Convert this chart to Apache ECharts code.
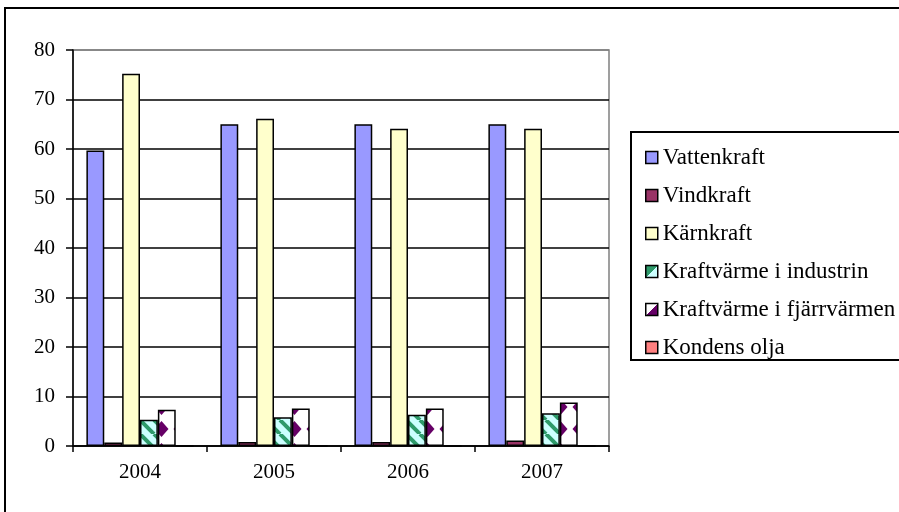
<!DOCTYPE html>
<html>
<head>
<meta charset="utf-8">
<title>Elproduktion</title>
<script src="https://cdn.jsdelivr.net/npm/echarts@6/dist/echarts.min.js"></script>
<style>
  html, body { margin: 0; padding: 0; background: #fff; }
</style>
</head>
<body>
<div id="main" style="width:899px;height:512px;"></div>
<script type="text/javascript">
// data (TWh)
var years = ['2004', '2005', '2006', '2007'];
var seriesNames = ['Vattenkraft', 'Vindkraft', 'Kärnkraft', 'Kraftvärme i industrin', 'Kraftvärme i fjärrvärmen', 'Kondens olja'];
var vattenkraft = [59.7, 65.0, 65.0, 65.0];
var vindkraft = [0.7, 0.8, 0.8, 1.1];
var karnkraft = [75.2, 66.1, 64.1, 64.1];
var kvIndustri = [5.3, 5.8, 6.3, 6.6];
var kvFjarr = [7.3, 7.6, 7.6, 8.8];
var kondensOlja = [0, 0, 0, 0];
var yTicks = [0, 10, 20, 30, 40, 50, 60, 70, 80];

// pattern fills, like the excel chart
function stripePattern() {
    var c = document.createElement('canvas');
    c.width = 14; c.height = 14;
    var ctx = c.getContext('2d');
    ctx.fillStyle = '#ccffff';
    ctx.fillRect(0, 0, 14, 14);
    ctx.strokeStyle = '#2e9a6a';
    ctx.lineWidth = 4;
    for (var k = -14; k <= 14; k += 14) {
        ctx.beginPath();
        ctx.moveTo(k, 0);
        ctx.lineTo(k + 14, 14);
        ctx.stroke();
    }
    return c;
}
function diamondPattern() {
    var c = document.createElement('canvas');
    c.width = 19; c.height = 22;
    var ctx = c.getContext('2d');
    ctx.fillStyle = '#ffffff';
    ctx.fillRect(0, 0, 19, 22);
    ctx.fillStyle = '#660066';
    ctx.beginPath();
    ctx.moveTo(9.5, 3);
    ctx.lineTo(16.5, 11);
    ctx.lineTo(9.5, 19);
    ctx.lineTo(2.5, 11);
    ctx.closePath();
    ctx.fill();
    return c;
}

var fonts = '"Liberation Serif", "Times New Roman", serif';
var colors = ['#9999ff', '#993366', '#ffffcc', {image: stripePattern(), repeat: 'repeat'}, {image: diamondPattern(), repeat: 'repeat'}, '#ff8080'];
var values = [vattenkraft, vindkraft, karnkraft, kvIndustri, kvFjarr, kondensOlja];

function diag(a, b) {
    return {type: 'linear', x: 0, y: 0, x2: 1, y2: 1,
        colorStops: [{offset: 0, color: a}, {offset: 0.5, color: a}, {offset: 0.5, color: b}, {offset: 1, color: b}]};
}
var legendColors = ['#9999ff', '#993366', '#ffffcc', diag('#2e9a6a', '#ccffff'), diag('#ffffff', '#660066'), '#ff8080'];

var series = seriesNames.map(function (name, i) {
    return {
        name: name,
        type: 'bar',
        data: values[i],
        barGap: '0%',
        barCategoryGap: '20%',
        itemStyle: {color: colors[i], borderColor: '#000', borderWidth: 1.5},
        emphasis: {disabled: true}
    };
});

var myChart = echarts.init(document.getElementById('main'));
var option = {
    animation: false,
    backgroundColor: '#fff',
    grid: {left: 73, top: 50, right: 290, bottom: 66, show: true, borderColor: '#808080', borderWidth: 1.5},
    legend: {
        orient: 'vertical',
        left: 640,
        top: 141,
        itemWidth: 12,
        itemHeight: 12,
        itemGap: 15,
        icon: 'rect',
        textStyle: {fontFamily: fonts, fontSize: 23, lineHeight: 23, color: '#000'},
        data: seriesNames.map(function (n, i) {
            return {name: n, itemStyle: {color: legendColors[i], borderColor: '#000', borderWidth: 1.5}};
        })
    },
    xAxis: {
        type: 'category',
        data: years,
        axisLine: {lineStyle: {color: '#000', width: 1.5}},
        axisTick: {show: true, length: 6, lineStyle: {color: '#000', width: 1.5}},
        axisLabel: {fontFamily: fonts, fontSize: 21, color: '#000', margin: 16}
    },
    yAxis: {
        type: 'value',
        min: yTicks[0],
        max: yTicks[yTicks.length - 1],
        interval: 10,
        axisLine: {show: true, lineStyle: {color: '#000', width: 1.5}},
        axisTick: {show: true, length: 7, lineStyle: {color: '#000', width: 1.5}},
        axisLabel: {fontFamily: fonts, fontSize: 21, color: '#000', margin: 18},
        splitLine: {lineStyle: {color: ['#000', '#000', '#000', '#000', '#000', '#000', '#000', '#000', '#808080'], width: 1.5}}
    },
    graphic: [
        {type: 'rect', shape: {x: 5, y: 8, width: 1000, height: 600}, style: {fill: 'none', stroke: '#000', lineWidth: 2}, silent: true},
        {type: 'rect', shape: {x: 631, y: 132, width: 400, height: 228}, style: {fill: 'none', stroke: '#000', lineWidth: 2}, silent: true}
    ],
    series: series
};
myChart.setOption(option);
</script>
</body>
</html>
